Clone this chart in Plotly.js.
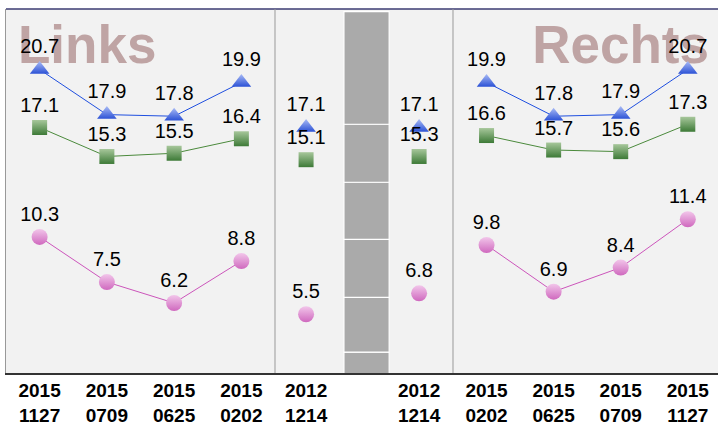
<!DOCTYPE html>
<html>
<head>
<meta charset="utf-8">
<script src="https://cdn.plot.ly/plotly-3.0.1.min.js"></script>
<style>
html,body{margin:0;padding:0;background:#fff;}
#chart{width:718px;height:428px;}
</style>
</head>
<body>
<div id="chart"></div>
<script>
// ---- Data ----
var leftCats = ["2015<br>1127", "2015<br>0709", "2015<br>0625", "2015<br>0202"];
var leftTri  = [20.7, 17.9, 17.8, 19.9];
var leftSq   = [17.1, 15.3, 15.5, 16.4];
var leftCirc = [10.3, 7.5, 6.2, 8.8];

var midCats   = ["L2012", "BREAK", "R2012"];
var midLabels = ["2012<br>1214", "", "2012<br>1214"];
var midTriX   = ["L2012", "R2012"];
var midTri    = [17.1, 17.1];
var midSq     = [15.1, 15.3];
var midCirc   = [5.5, 6.8];

var breakSegments = [1.55, 3.4, 3.6, 3.55, 3.6, 7.0];
var breakBase0 = 1.6;

var rightCats = ["2015<br>0202", "2015<br>0625", "2015<br>0709", "2015<br>1127"];
var rightTri  = [19.9, 17.8, 17.9, 20.7];
var rightSq   = [16.6, 15.7, 15.6, 17.3];
var rightCirc = [9.8, 6.9, 8.4, 11.4];

var panelTitles = ["Links", "Rechts"];

// ---- Styles ----
var triStyle  = {line:'#1f4fe0', marker:{symbol:'triangle-up', size:17, color:'#a9bbf5', gradient:{type:'vertical', color:'#2c52d6'}, line:{width:0}}};
var sqStyle   = {line:'#4b8a3c', marker:{symbol:'square', size:15, color:'#a7c79b', gradient:{type:'vertical', color:'#3d7a37'}, line:{width:0}}};
var circStyle = {line:'#cc55bb', marker:{symbol:'circle', size:16, color:'#f2c6ea', gradient:{type:'vertical', color:'#cf68be'}, line:{width:0}}};

function fmt(a){ return a.map(function(v){ return v.toFixed(1); }); }

function series(x, y, style, xa, mode){
  return {
    type:'scatter', x:x, y:y, xaxis:xa, yaxis:'y',
    mode: mode, text: fmt(y), textposition:'top center',
    textfont:{family:'Liberation Sans, Arial, sans-serif', size:20, color:'#000'},
    line:{color:style.line, width:1},
    marker: style.marker, cliponaxis:false, showlegend:false, hoverinfo:'skip'
  };
}

var breakX = breakSegments.map(function(){ return "BREAK"; });
var breakBases = [];
var acc = breakBase0;
breakSegments.forEach(function(s){ breakBases.push(acc); acc += s; });

var data = [
  {type:'bar', x:breakX, y:breakSegments, base:breakBases, xaxis:'x2', yaxis:'y', width:0.8, offset:-0.33,
   marker:{color:'#aaaaaa', line:{color:'#ffffff', width:1.2}}, showlegend:false, hoverinfo:'skip'},
  series(leftCats, leftTri, triStyle, 'x', 'lines+markers+text'),
  series(leftCats, leftSq, sqStyle, 'x', 'lines+markers+text'),
  series(leftCats, leftCirc, circStyle, 'x', 'lines+markers+text'),
  series(midTriX, midTri, triStyle, 'x2', 'markers+text'),
  series(midTriX, midSq, sqStyle, 'x2', 'markers+text'),
  series(midTriX, midCirc, circStyle, 'x2', 'markers+text'),
  series(rightCats, rightTri, triStyle, 'x3', 'lines+markers+text'),
  series(rightCats, rightSq, sqStyle, 'x3', 'lines+markers+text'),
  series(rightCats, rightCirc, circStyle, 'x3', 'lines+markers+text')
];

var tickFont = {family:'Liberation Sans, Arial, sans-serif', size:19, color:'#000', weight:'bold'};
var d1 = 269/712, d2 = 447/712;

function xax(domain, cats, range, tickvals, ticktext){
  var a = {domain:domain, type:'category', categoryorder:'array', categoryarray:cats,
    range:range, showgrid:false, zeroline:false, showline:true, linecolor:'#333', linewidth:1.5,
    ticks:'', tickfont:tickFont, anchor:'y', fixedrange:true};
  if(tickvals){ a.tickmode='array'; a.tickvals=tickvals; a.ticktext=ticktext; }
  return a;
}

var wmFont = {family:'Liberation Sans, Arial, sans-serif', size:53, weight:'bold', color:'#bfa4a4'};

var layout = {
  width:718, height:428,
  margin:{l:6, r:0, t:9, b:55},
  paper_bgcolor:'#ffffff', plot_bgcolor:'#f2f2f2',
  barmode:'overlay',
  showlegend:false,
  xaxis:  xax([0, d1], leftCats, [-0.5, 3.5]),
  xaxis2: xax([d1, d2], midCats, [-0.55, 2.6], midCats, midLabels),
  xaxis3: xax([d2, 1], rightCats, [-0.5, 3.45]),
  yaxis: {range:[1.85, 24.46], showgrid:false, zeroline:false, showticklabels:false,
    showline:true, linecolor:'#999', linewidth:1, ticks:'', anchor:'x', fixedrange:true},
  shapes:[
    {type:'rect', xref:'x domain', yref:'y domain', x0:0, x1:1, y0:0.83, y1:1.0, layer:'below',
     line:{width:0}, fillcolor:'rgba(0,0,0,0)',
     label:{text:panelTitles[0], textposition:'middle left', padding:9, font:wmFont}},
    {type:'rect', xref:'x3 domain', yref:'y domain', x0:0, x1:1, y0:0.83, y1:1.0, layer:'below',
     line:{width:0}, fillcolor:'rgba(0,0,0,0)',
     label:{text:panelTitles[1], textposition:'middle right', padding:6, font:wmFont}},
    {type:'line', xref:'paper', yref:'paper', x0:0, x1:1, y0:1, y1:1, line:{color:'#3b3b72', width:1.5}},
    {type:'line', xref:'paper', yref:'paper', x0:d1, x1:d1, y0:0, y1:1, line:{color:'#999', width:1}},
    {type:'line', xref:'paper', yref:'paper', x0:d2, x1:d2, y0:0, y1:1, line:{color:'#999', width:1}}
  ]
};

Plotly.newPlot('chart', data, layout, {displayModeBar:false, staticPlot:true});
</script>
</body>
</html>
